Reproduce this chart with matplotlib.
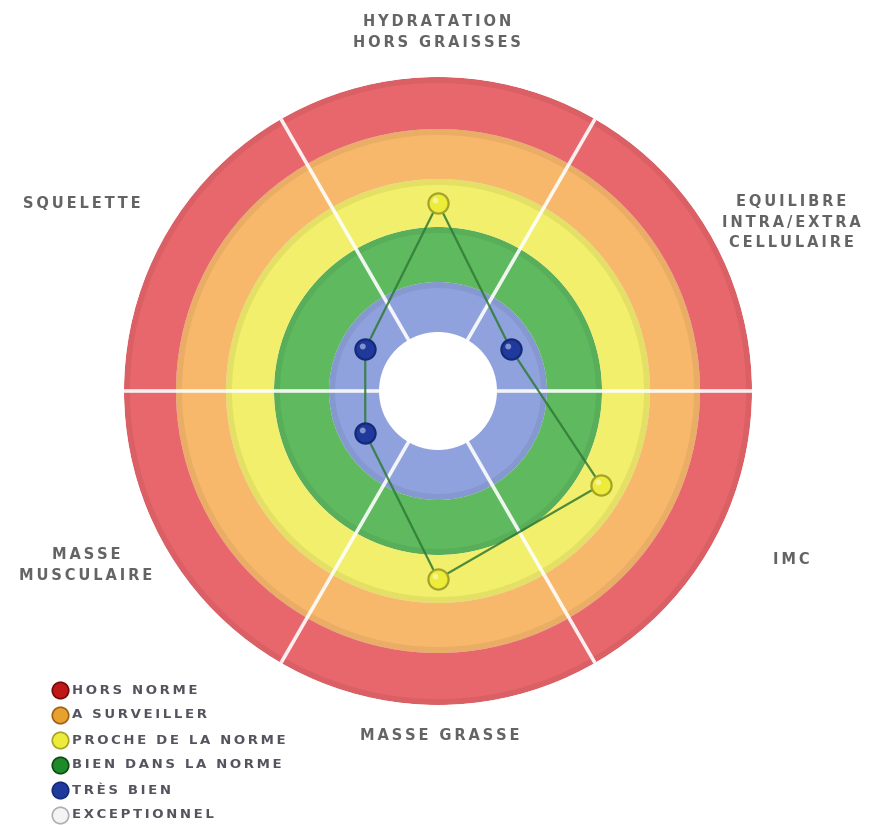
import numpy as np
import matplotlib.pyplot as plt
from matplotlib.transforms import offset_copy

# Categories around the wheel and the level reached on each one
# level: 0 = exceptionnel (centre) ... 5 = hors norme (outer ring)
categories = ["HYDRATATION\nHORS GRAISSES", "EQUILIBRE\nINTRA/EXTRA\nCELLULAIRE", "IMC",
              "MASSE GRASSE", "MASSE\nMUSCULAIRE", "SQUELETTE"]
angles_deg = [90, 30, 330, 270, 210, 150]
levels = [3, 1, 3, 3, 1, 1]

legend_labels = ["HORS NORME", "A SURVEILLER", "PROCHE DE LA NORME",
                 "BIEN DANS LA NORME", "TRÈS BIEN", "EXCEPTIONNEL"]

# ring colours from centre outwards
ring_colors = ["#ffffff", "#8fa2de", "#5eb95f", "#f2ef6c", "#f8b86c", "#e8676d"]
ring_edges = [0, 59, 109, 164, 212, 262, 314]
# marker colours, same order as the levels (exceptionnel ... hors norme)
dot_colors = ["#f4f4f4", "#1f3a9c", "#1f8a2a", "#eeec3a", "#e8a030", "#c01818"]
dot_edges = ["#b0b0b0", "#142a78", "#0c4a14", "#a3a32a", "#a06010", "#700a0a"]


def spaced(s):
    return "\n".join("\u2009".join(line) for line in s.split("\n"))


W, H = 882, 825
fig = plt.figure(figsize=(W / 100, H / 100), dpi=100)

bg = fig.add_axes([0, 0, 1, 1])
bg.set_xlim(0, W)
bg.set_ylim(H, 0)
bg.axis("off")

cx, cy, R = 438, 391, 314
ax = fig.add_axes([(cx - R) / W, (H - cy - R) / H, 2 * R / W, 2 * R / H], projection="polar")
ax.set_facecolor("none")
ax.set_ylim(0, R)
ax.axis("off")

# rings
for k in range(len(ring_colors)):
    ax.bar(0, ring_edges[k + 1] - ring_edges[k], width=2 * np.pi, bottom=ring_edges[k],
           color=ring_colors[k], edgecolor="none", zorder=1)
# darker fringe on the outer part of each coloured ring
for k in range(1, len(ring_colors)):
    ax.bar(0, 6, width=2 * np.pi, bottom=ring_edges[k + 1] - 6,
           color="black", alpha=0.06, edgecolor="none", zorder=1)

# sector dividers
for a in range(0, 360, 60):
    t = np.deg2rad(a)
    ax.plot([t, t], [ring_edges[1], R], color="white", lw=2.6, alpha=0.9, zorder=2)

# values
theta = np.deg2rad(angles_deg)
mids = [(ring_edges[l] + ring_edges[l + 1]) / 2 for l in levels]
ax.plot(np.append(theta, theta[0]), np.append(mids, mids[0]), color="#2f7a34", lw=1.6,
        alpha=0.85, zorder=3)
shine = offset_copy(ax.transData, fig=fig, x=-2.5, y=2.5, units="dots")
for t, r, l in zip(theta, mids, levels):
    ax.scatter(t, r, s=210, color=dot_colors[l], edgecolors=dot_edges[l], linewidths=1.6, zorder=4)
    ax.scatter(t, r, s=18, color="white", alpha=0.45, zorder=5, edgecolors="none",
               transform=shine)

# category labels
label_pos = [(437, 32), (791, 222), (791, 560), (440, 735), (86, 565), (82, 203)]
for txt, (x, y) in zip(categories, label_pos):
    bg.text(x, y, spaced(txt), ha="center", va="center", fontsize=10.5, fontweight="bold",
            color="#646464", linespacing=1.45)

# legend
for i, (lab, c, e) in enumerate(zip(legend_labels, dot_colors[::-1], dot_edges[::-1])):
    y = 690 + i * 25
    bg.scatter(60, y, s=140, color=c, edgecolors=e, linewidths=1.2, zorder=3)
    bg.text(72, y, spaced(lab), ha="left", va="center", fontsize=9.5, fontweight="bold",
            color="#55535e")

fig.savefig("out.png", dpi=100)
